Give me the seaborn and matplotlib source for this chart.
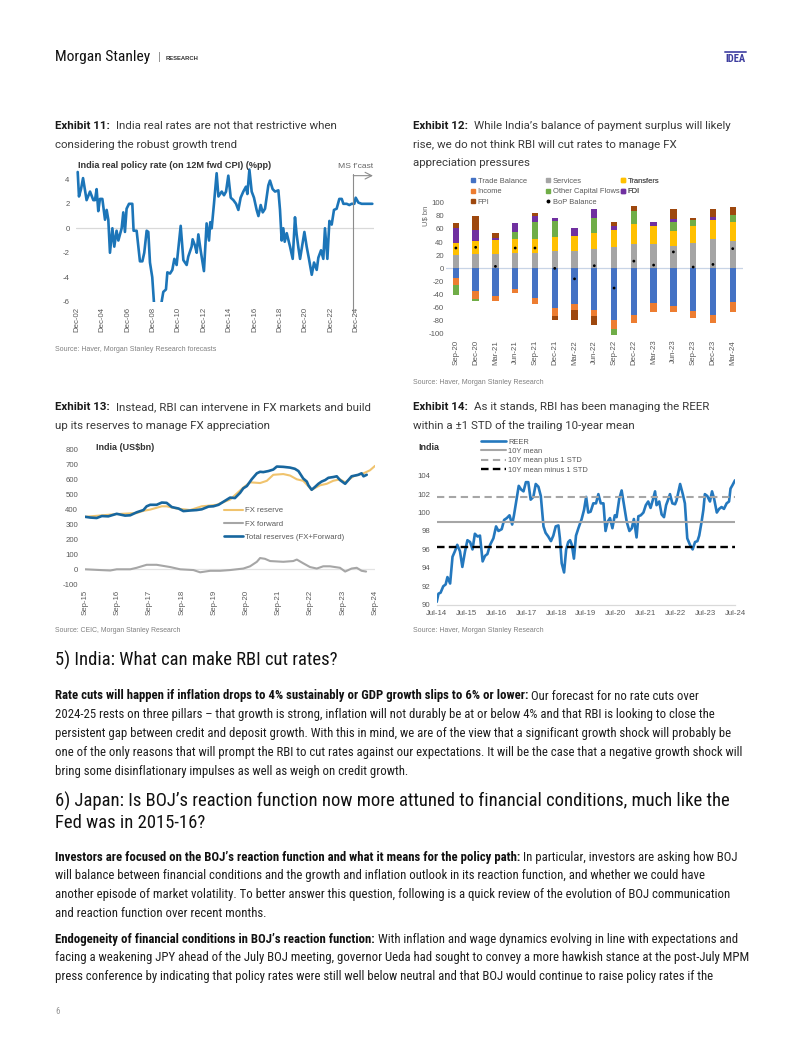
import numpy as np
import pandas as pd
import matplotlib
matplotlib.use("Agg")
import matplotlib.pyplot as plt
import seaborn as sns
from matplotlib import font_manager as fm
from matplotlib.lines import Line2D

# ---------------------------------------------------------------- data
# Exhibit 11: India real policy rate (decimal year, %pp)
rate_dates = [2003.0, 2003.1, 2003.26, 2003.42, 2003.7, 2003.97, 2004.23, 2004.36, 2004.49, 2004.62,
              2004.75, 2004.94, 2005.15, 2005.28, 2005.41, 2005.54, 2005.73, 2005.88, 2006.06, 2006.2,
              2006.46, 2006.59, 2006.72, 2006.85, 2007.04, 2007.3, 2007.4, 2007.64, 2007.9, 2008.09,
              2008.24, 2008.43, 2008.56, 2008.69, 2008.87, 2009.0, 2009.2, 2009.4, 2009.61, 2009.74,
              2009.95, 2010.06, 2010.27, 2010.45, 2010.61, 2010.79, 2011.11, 2011.32, 2011.58, 2011.71,
              2011.97, 2012.05, 2012.23, 2012.37, 2012.5, 2012.68, 2012.94, 2013.15, 2013.34, 2013.44,
              2013.55, 2013.73, 2013.94, 2014.08, 2014.34, 2014.52, 2014.68, 2014.86, 2015.05, 2015.26,
              2015.47, 2015.65, 2015.83, 2016.04, 2016.25, 2016.36, 2016.52, 2016.7, 2016.88, 2017.09,
              2017.23, 2017.41, 2017.57, 2017.75, 2018.01, 2018.14, 2018.35, 2018.54, 2018.8, 2018.93,
              2019.06, 2019.19, 2019.3, 2019.46, 2019.72, 2019.93, 2020.11, 2020.24, 2020.38, 2020.51,
              2020.85, 2021.03, 2021.21, 2021.43, 2021.61, 2021.82, 2021.95, 2022.16, 2022.34, 2022.47,
              2022.66, 2022.82, 2023.0, 2023.18, 2023.39, 2023.6, 2023.79, 2023.92, 2024.18, 2024.39,
              2024.57, 2024.78, 2024.89, 2025.1, 2025.36, 2026.2]
rate_vals = [4.6, 2.6, 3.2, 4.1, 2.3, 3.0, 2.3, 2.3, 3.2, 1.4,
             2.4, 2.4, 0.7, 1.5, 0.7, -2.0, 0.0, -1.5, -0.2, -1.0,
             0.0, 1.3, -0.3, 1.6, 2.0, 2.0, -0.2, -0.2, -2.7, -2.7,
             -2.0, -0.2, -0.3, -2.8, -4.0, -6.0, -8.0, -7.5, -6.0, -5.2,
             -5.0, -3.6, -3.7, -3.4, -2.5, -3.0, 0.2, -2.6, -3.0, -2.3,
             -1.5, -0.9, -1.4, -2.0, -0.5, -1.8, -3.5, 0.4, -1.0, 0.5,
             0.0, 2.0, 4.5, 2.6, 3.0, 2.7, 3.0, 4.3, 2.5, 2.3,
             2.0, 1.5, 2.5, 3.0, 3.4, 2.8, 4.8, 3.0, 2.5, 1.5,
             1.0, 1.9, 1.3, 1.6, 3.5, 3.9, 3.2, 3.0, 3.1, 1.5,
             -1.0, 0.0, -1.1, -0.4, -1.5, -2.5, 0.9, -0.5, -1.6, -2.5,
             -0.3, -1.5, -2.5, -3.8, -2.8, -3.4, -2.4, -1.8, -2.5, 0.0,
             -2.5, 0.6, 0.3, 1.5, 1.6, 2.4, 2.4, 2.0, 2.0, 1.9,
             2.0, 2.0, 2.5, 2.1, 2.0, 2.0]
forecast_start = 2024.7
ex11_ticklabels = ["Dec-02", "Dec-04", "Dec-06", "Dec-08", "Dec-10", "Dec-12",
                   "Dec-14", "Dec-16", "Dec-18", "Dec-20", "Dec-22", "Dec-24"]

# Exhibit 12: India balance of payments (US$ bn)
quarters = ["Sep-20", "Dec-20", "Mar-21", "Jun-21", "Sep-21", "Dec-21", "Mar-22", "Jun-22",
            "Sep-22", "Dec-22", "Mar-23", "Jun-23", "Sep-23", "Dec-23", "Mar-24"]
trade_balance = [-14, -34, -42, -31, -45, -60, -55, -64, -79, -71, -53, -57, -65, -71, -51]
services = [20, 22, 22, 24, 24, 26, 26, 30, 33, 37, 37, 34, 38, 44, 42]
transfers = [18, 20, 21, 20, 20, 22, 23, 24, 25, 30, 27, 23, 26, 29, 29]
income = [-11, -12, -8, -6, -10, -12, -9, -8, -13, -12, -13, -10, -11, -13, -15]
other_capital = [-15, -3, 0, 12, 27, 24, 0, 22, -9, 21, 0, 14, 9, 0, 10]
fdi = [24, 16, 3, 13, 9, 5, 13, 14, 6, 0, 7, 4, 0, 5, 0]
fpi = [7, 22, 8, 0, 4, -6, -15, -14, 7, 7, 0, 16, 4, 12, 13]
bop_balance = [31, 32, 3, 31, 31, 0, -16, 4, -30, 11, 5, 25, 2, 6, 30]

# Exhibit 13: India reserves (US$ bn)
total_dates = [2015.67, 2015.83, 2016.03, 2016.19, 2016.39, 2016.65, 2016.91, 2017.07, 2017.27, 2017.48,
               2017.58, 2017.69, 2017.89, 2018.05, 2018.2, 2018.36, 2018.57, 2018.72, 2018.93, 2019.13,
               2019.29, 2019.5, 2019.65, 2019.81, 2019.96, 2020.17, 2020.32, 2020.48, 2020.58, 2020.69,
               2020.84, 2021.0, 2021.1, 2021.2, 2021.36, 2021.51, 2021.62, 2021.82, 2022.03, 2022.18,
               2022.29, 2022.44, 2022.55, 2022.6, 2022.7, 2022.81, 2022.91, 2023.01, 2023.12, 2023.22,
               2023.37, 2023.48, 2023.58, 2023.74, 2023.84, 2023.94, 2024.15, 2024.25, 2024.31, 2024.41]
total_reserves = [350, 345, 342, 355, 353, 370, 358, 360, 380, 395,
                  420, 430, 430, 445, 443, 415, 405, 388, 392, 395,
                  400, 418, 420, 430, 450, 478, 475, 510, 540, 555,
                  600, 640, 650, 648, 655, 665, 685, 683, 678, 670,
                  655, 605, 585, 560, 530, 550, 570, 585, 595, 610,
                  615, 620, 595, 570, 595, 620, 630, 640, 620, 630]
fxres_dates = [2015.67, 2016.65, 2017.27, 2017.48, 2017.69, 2018.05, 2018.2, 2018.51, 2018.93, 2019.29,
               2019.55, 2019.75, 2020.17, 2020.58, 2020.79, 2021.1, 2021.31, 2021.51, 2021.82, 2022.03,
               2022.24, 2022.44, 2022.7, 2022.96, 2023.17, 2023.37, 2023.58, 2023.74, 2024.0, 2024.31,
               2024.51, 2024.67]
fx_reserve = [350, 368, 375, 390, 398, 420, 420, 405, 395, 420,
              425, 430, 465, 545, 580, 575, 590, 630, 635, 625,
              600, 590, 530, 560, 570, 590, 600, 580, 620, 640,
              660, 690]
fwd_dates = [2015.67, 2016.14, 2016.45, 2016.65, 2017.07, 2017.27, 2017.58, 2017.89, 2018.31, 2018.62,
             2019.03, 2019.24, 2019.55, 2019.86, 2020.17, 2020.58, 2020.79, 2021.0, 2021.1, 2021.25,
             2021.41, 2021.82, 2022.13, 2022.24, 2022.44, 2022.65, 2022.86, 2023.06, 2023.27, 2023.58,
             2023.74, 2023.94, 2024.1, 2024.25, 2024.39]
fx_forward = [0, -5, -8, 0, 0, 10, 30, 30, 15, 0,
              -5, -20, -10, -10, -5, 5, 20, 50, 75, 70,
              55, 50, 55, 65, 40, 15, 5, 20, 20, 10,
              -15, 5, 10, -10, -15]
ex13_ticklabels = ["Sep-15", "Sep-16", "Sep-17", "Sep-18", "Sep-19",
                   "Sep-20", "Sep-21", "Sep-22", "Sep-23", "Sep-24"]

# Exhibit 14: India REER
reer_dates = [2014.5, 2014.56, 2014.63, 2014.72, 2014.8, 2014.86, 2014.95, 2015.03, 2015.11, 2015.19,
              2015.28, 2015.36, 2015.45, 2015.53, 2015.62, 2015.7, 2015.78, 2015.87, 2015.95, 2016.04,
              2016.12, 2016.2, 2016.29, 2016.4, 2016.49, 2016.57, 2016.68, 2016.76, 2016.85, 2016.94,
              2017.03, 2017.09, 2017.18, 2017.25, 2017.33, 2017.41, 2017.49, 2017.57, 2017.65, 2017.74,
              2017.82, 2017.91, 2017.99, 2018.08, 2018.15, 2018.24, 2018.33, 2018.41, 2018.49, 2018.58,
              2018.63, 2018.69, 2018.77, 2018.84, 2018.91, 2018.97, 2019.03, 2019.1, 2019.17, 2019.25,
              2019.36, 2019.44, 2019.51, 2019.58, 2019.66, 2019.75, 2019.84, 2019.92, 2020.0, 2020.09,
              2020.16, 2020.23, 2020.31, 2020.39, 2020.47, 2020.53, 2020.62, 2020.7, 2020.78, 2020.87,
              2020.96, 2021.04, 2021.11, 2021.2, 2021.26, 2021.34, 2021.43, 2021.51, 2021.59, 2021.67,
              2021.74, 2021.82, 2021.87, 2021.96, 2022.04, 2022.12, 2022.19, 2022.27, 2022.32, 2022.4,
              2022.49, 2022.54, 2022.66, 2022.75, 2022.82, 2022.9, 2022.99, 2023.08, 2023.16, 2023.24,
              2023.3, 2023.38, 2023.44, 2023.49, 2023.57, 2023.66, 2023.73, 2023.8, 2023.89, 2023.97,
              2024.05, 2024.13, 2024.22, 2024.3, 2024.35, 2024.42, 2024.5]
reer = [90.3, 91.2, 91.3, 92.0, 92.2, 93.0, 92.3, 95.2, 95.8, 96.5,
        95.8, 94.1, 95.8, 97.0, 96.8, 96.0, 97.7, 97.4, 97.5, 94.7,
        95.3, 95.5, 96.5, 97.2, 98.5, 98.0, 98.2, 99.2, 99.4, 99.7,
        98.7, 99.7, 101.5, 102.9, 102.5, 102.3, 103.3, 103.3, 101.4, 101.7,
        103.1, 102.8, 101.8, 98.5, 97.8, 97.4, 96.9, 97.5, 98.5, 98.6,
        97.2, 94.5, 93.5, 96.0, 96.8, 97.0, 96.5, 95.0, 97.5, 98.3,
        99.3, 100.3, 101.7, 100.0, 100.1, 101.0, 101.0, 102.0, 101.0, 101.0,
        98.0, 99.0, 99.4, 98.3, 99.7, 99.5, 101.5, 102.4, 100.8, 99.0,
        98.0, 98.3, 99.3, 97.3, 99.6, 99.7, 100.0, 100.8, 101.2, 100.5,
        101.3, 102.3, 100.8, 101.2, 99.8, 99.5, 100.8, 101.5, 102.0, 101.0,
        100.9, 101.3, 103.1, 102.0, 101.0, 97.2, 96.5, 96.0, 96.8, 96.9,
        97.5, 99.0, 100.3, 102.0, 101.8, 101.2, 102.3, 101.5, 100.0, 100.4,
        100.6, 100.4, 101.0, 101.2, 102.6, 103.0, 103.5]
mean_10y = 99.0
mean_plus_std = 101.7
mean_minus_std = 96.25
ex14_ticklabels = ["Jul-14", "Jul-15", "Jul-16", "Jul-17", "Jul-18", "Jul-19",
                   "Jul-20", "Jul-21", "Jul-22", "Jul-23", "Jul-24"]

# ---------------------------------------------------------------- setup
sns.set_theme(style="white")
avail = {f.name for f in fm.fontManager.ttflist}


def pick(*names):
    for n in names:
        if n in avail:
            return n
    return "DejaVu Sans"


CHART = pick("Liberation Sans", "Arimo", "DejaVu Sans")
NARROW = pick("Liberation Sans Narrow", "Roboto Condensed", "Open Sans Condensed", "Lato", "Noto Sans")
TITLE = pick("Roboto", "Lato", "Liberation Sans")
plt.rcParams["font.family"] = [CHART, "DejaVu Sans"]
plt.rcParams["axes.unicode_minus"] = False

W, H = 802, 1037
fig = plt.figure(figsize=(W / 100, H / 100), dpi=100)
fig.patch.set_facecolor("white")
renderer = fig.canvas.get_renderer()


def tw(s, size, family, weight="normal"):
    t = fig.text(0, 0, s, fontsize=size, family=family, weight=weight)
    w = t.get_window_extent(renderer).width
    t.remove()
    return w


def space_w(size, family):
    return tw("a a", size, family) - tw("aa", size, family)


def segs_width(segs, size, family):
    total = sum(tw(s, size, family, wt) for s, wt, _ in segs)
    return total + (len(segs) - 1) * space_w(size, family) * 1.0


def fit(segs, target, family, base=10.0):
    return base * target / segs_width(segs, base, family)


def draw(x, y, segs, size, family, extra_gap=0.0, **kw):
    cx = x
    sp = space_w(size, family)
    for i, (s, wt, col) in enumerate(segs):
        t = fig.text(cx / W, 1 - y / H, s, fontsize=size, family=family, weight=wt,
                     color=col, va="center", ha="left", **kw)
        cx += t.get_window_extent(renderer).width + sp + extra_gap
    return cx


def ftext(x, y, s, target_w, family, weight="normal", color="#222222", ha="left", rotation=0):
    size = 10.0 * target_w / tw(s, 10.0, family, weight)
    return fig.text(x / W, 1 - y / H, s, fontsize=size, family=family, weight=weight,
                    color=color, ha=ha, va="center", rotation=rotation)


def add_ax(l, t, r, b):
    return fig.add_axes([l / W, 1 - b / H, (r - l) / W, (b - t) / H])


def dec(label):
    ts = pd.to_datetime(label, format="%b-%y")
    return ts.year + (ts.month - 1) / 12.0


TICK_C = "#595959"
BODY_C = "#1e1e1e"
TITLE_C = "#3a3a3a"
SRC_C = "#808080"

# ---------------------------------------------------------------- header
ftext(55, 57, "Morgan Stanley", 95, NARROW, color="#111111")
fig.text(158 / W, 1 - 57 / H, "|", fontsize=8, color="#888888", va="center", ha="left")
ftext(166, 58, "RESEARCH", 33, CHART, weight="bold", color="#333333")
ftext(725, 59, "IDEA", 20, NARROW, weight="bold", color="#3d3d9e")
fig.add_artist(Line2D([725 / W, 746 / W], [1 - 51.5 / H, 1 - 51.5 / H], color="#5a5aae", lw=1.4))

# ---------------------------------------------------------------- exhibit titles
t_size = fit([("Exhibit 11:", "bold", ""), ("India real rates are not that restrictive when", "normal", "")],
             283 - 4, TITLE)


def title(x, y, bold, rest):
    draw(x, y, [(bold, "bold", "#1a1a1a"), (rest, "normal", TITLE_C)], t_size, TITLE, extra_gap=3)


def title_cont(x, y, s):
    draw(x, y, [(s, "normal", TITLE_C)], t_size, TITLE)


title(55, 126, "Exhibit 11:", "India real rates are not that restrictive when")
title_cont(55, 145, "considering the robust growth trend")
title(413, 126, "Exhibit 12:", "While India’s balance of payment surplus will likely")
title_cont(413, 145, "rise, we do not think RBI will cut rates to manage FX")
title_cont(413, 163, "appreciation pressures")
title(55, 407, "Exhibit 13:", "Instead, RBI can intervene in FX markets and build")
title_cont(55, 426, "up its reserves to manage FX appreciation")
title(413, 407, "Exhibit 14:", "As it stands, RBI has been managing the REER")
title_cont(413, 426, "within a ±1 STD of the trailing 10-year mean")

# ---------------------------------------------------------------- Exhibit 11
ax1 = add_ax(75.8, 167.1, 373.6, 301.7)
df11 = pd.DataFrame({"date": rate_dates, "rate": rate_vals})
ax1.axhline(0, color="#d9d9d9", lw=0.9, zorder=0)
sns.lineplot(data=df11, x="date", y="rate", ax=ax1, color="#1c75b8", lw=1.9)
ax1.set_xlim(2002.85, 2026.3)
ax1.set_ylim(-6, 5)
ax1.set_yticks([-6, -4, -2, 0, 2, 4])
ax1.set_xticks([dec(l) for l in ex11_ticklabels])
ax1.set_xticklabels(ex11_ticklabels, rotation=90)
ax1.tick_params(axis="both", length=0, labelsize=5.6, colors=TICK_C)
ax1.tick_params(axis="y", pad=4.5)
ax1.tick_params(axis="x", pad=3.6)
ax1.set_xlabel("")
ax1.set_ylabel("")
for s in ax1.spines.values():
    s.set_visible(False)
ax1.axvline(forecast_start, ymin=-0.085, ymax=0.95, color="#8c8c8c", lw=0.8, clip_on=False)
ax1.annotate("", xy=(2026.25, 4.3), xytext=(forecast_start, 4.3),
             arrowprops=dict(arrowstyle="->", color="#8c8c8c", lw=0.8, shrinkA=0, shrinkB=0))
ftext(373, 166, "MS f’cast", 35, CHART, color="#666666", ha="right")
ftext(78, 165, "India real policy rate (on 12M fwd CPI) (%pp)", 192, CHART, weight="bold", color="#333333")
ftext(55, 349, "Source: Haver, Morgan Stanley Research forecasts", 160, CHART, color=SRC_C)

# ---------------------------------------------------------------- Exhibit 12
ax2 = add_ax(446, 202.7, 742.6, 334)
series12 = [("Trade Balance", trade_balance, "#4472c4"),
            ("Services", services, "#a5a5a5"),
            ("Transfers", transfers, "#ffc000"),
            ("Income", income, "#ed7d31"),
            ("Other Capital Flows", other_capital, "#70ad47"),
            ("FDI", fdi, "#7030a0"),
            ("FPI", fpi, "#9e480e")]
xpos = np.arange(len(quarters))
pos_base = np.zeros(len(quarters))
neg_base = np.zeros(len(quarters))
ax2.axhline(0, color="#c8d4e6", lw=0.9, zorder=0)
for name, vals, col in series12:
    v = np.array(vals, dtype=float)
    bottoms = np.where(v >= 0, pos_base, neg_base)
    ax2.bar(xpos, v, bottom=bottoms, width=0.32, color=col, edgecolor="none", zorder=2, clip_on=False)
    pos_base = pos_base + np.where(v >= 0, v, 0)
    neg_base = neg_base + np.where(v < 0, v, 0)
sns.scatterplot(x=xpos, y=bop_balance, ax=ax2, color="black", s=4, edgecolor="none", zorder=3)
ax2.set_xlim(-0.5, len(quarters) - 0.5)
ax2.set_ylim(-100, 100)
ax2.set_yticks(np.arange(-100, 101, 20))
ax2.set_xticks(xpos)
ax2.set_xticklabels(quarters, rotation=90)
ax2.tick_params(axis="both", length=0, labelsize=5.6, colors=TICK_C)
ax2.tick_params(axis="y", pad=1.5)
ax2.tick_params(axis="x", pad=4.2)
for s in ax2.spines.values():
    s.set_visible(False)
handles12 = {name: Line2D([], [], ls="", marker="s", markersize=3.3, color=col) for name, _, col in series12}
handles12["BoP Balance"] = Line2D([], [], ls="", marker="o", markersize=1.8, color="black")
columns12 = [(470.5, ["Trade Balance", "Income", "FPI"]),
             (545.5, ["Services", "Other Capital Flows", "BoP Balance"]),
             (620.5, ["Transfers", "FDI"])]
for cx, names in columns12:
    lg = ax2.legend([handles12[k] for k in names], names, loc="upper left",
                    bbox_to_anchor=(cx / W, 1 - 177.5 / H), bbox_transform=fig.transFigure,
                    frameon=False, fontsize=5.4, handlelength=0.7, handletextpad=0.25,
                    labelspacing=0.42, borderpad=0, borderaxespad=0)
    for t in lg.get_texts():
        t.set_color(TICK_C)
    ax2.add_artist(lg)
ftext(423, 216, "U$ bn", 20, CHART, color="#666666", rotation=90)
ftext(413, 382, "Source: Haver, Morgan Stanley Research", 129, CHART, color=SRC_C)

# ---------------------------------------------------------------- Exhibit 13
ax3 = add_ax(85, 449.3, 375, 584.3)
ax3.axhline(0, color="#e3e3e3", lw=0.9, zorder=0)
df_res = pd.DataFrame({"date": fxres_dates, "val": fx_reserve})
df_fwd = pd.DataFrame({"date": fwd_dates, "val": fx_forward})
df_tot = pd.DataFrame({"date": total_dates, "val": total_reserves})
sns.lineplot(data=df_res, x="date", y="val", ax=ax3, color="#f0c36d", lw=1.5, label="FX reserve")
sns.lineplot(data=df_fwd, x="date", y="val", ax=ax3, color="#a6a6a6", lw=1.5, label="FX forward")
sns.lineplot(data=df_tot, x="date", y="val", ax=ax3, color="#17669e", lw=1.9, label="Total reserves (FX+Forward)")
ax3.set_xlim(dec("Sep-15"), dec("Sep-24"))
ax3.set_ylim(-100, 800)
ax3.set_yticks(np.arange(-100, 801, 100))
ax3.set_xticks([dec(l) for l in ex13_ticklabels])
ax3.set_xticklabels(ex13_ticklabels, rotation=90)
ax3.tick_params(axis="both", length=0, labelsize=5.6, colors=TICK_C)
ax3.tick_params(axis="y", pad=5)
ax3.tick_params(axis="x", pad=4)
ax3.set_xlabel("")
ax3.set_ylabel("")
for s in ax3.spines.values():
    s.set_visible(False)
leg3 = ax3.legend(loc="upper left", bbox_to_anchor=(224 / W, 1 - 507 / H), bbox_transform=fig.transFigure,
                  frameon=False, fontsize=5.6, handlelength=2.5, handletextpad=0.2,
                  labelspacing=0.75, borderpad=0, borderaxespad=0)
for t in leg3.get_texts():
    t.set_color(TICK_C)
ftext(96, 447, "India (US$bn)", 58, CHART, weight="bold", color="#333333")
ftext(55, 631, "Source: CEIC, Morgan Stanley Research", 126, CHART, color=SRC_C)

# ---------------------------------------------------------------- Exhibit 14
ax4 = add_ax(436.7, 475.7, 735, 604.7)
df14 = pd.DataFrame({"date": reer_dates, "REER": reer})
sns.lineplot(data=df14, x="date", y="REER", ax=ax4, color="#2478be", lw=1.9, label="REER")
ax4.axhline(mean_10y, color="#a6a6a6", lw=1.5, label="10Y mean")
ax4.axhline(mean_plus_std, color="#a6a6a6", lw=1.5, ls=(0, (3.5, 2.2)), label="10Y mean plus 1 STD")
ax4.axhline(mean_minus_std, color="black", lw=1.7, ls=(0, (3.2, 1.8)), label="10Y mean minus 1 STD")
ax4.set_xlim(dec("Jul-14"), dec("Jul-24"))
ax4.set_ylim(90, 104)
ax4.set_yticks(np.arange(90, 105, 2))
ax4.set_xticks([dec(l) for l in ex14_ticklabels])
ax4.set_xticklabels(ex14_ticklabels)
ax4.tick_params(axis="both", length=0, labelsize=5.6, colors=TICK_C)
ax4.tick_params(axis="y", pad=4.8)
ax4.tick_params(axis="x", pad=4)
ax4.set_xlabel("")
ax4.set_ylabel("")
for k, s in ax4.spines.items():
    s.set_visible(k == "bottom")
ax4.spines["bottom"].set_color("#d9d9d9")
ax4.spines["bottom"].set_linewidth(0.9)
leg4 = ax4.legend(loc="upper left", bbox_to_anchor=(481 / W, 1 - 438.5 / H), bbox_transform=fig.transFigure,
                  frameon=False, fontsize=5.4, handlelength=3.3, handletextpad=0.3,
                  labelspacing=0.28, borderpad=0, borderaxespad=0)
for t in leg4.get_texts():
    t.set_color(TICK_C)
ftext(418, 448, "India", 21, CHART, weight="bold", color="#333333")
ftext(413, 630, "Source: Haver, Morgan Stanley Research", 129, CHART, color=SRC_C)

# ---------------------------------------------------------------- body text
h_size = min(fit([("5) India: What can make RBI cut rates?", "normal", "")], 286, NARROW),
             fit([("6) Japan: Is BOJ’s reaction function now more attuned to financial conditions, much like the",
                   "normal", "")], 670, NARROW))
draw(55, 660, [("5) India: What can make RBI cut rates?", "normal", "#111111")], h_size, NARROW)

p_size = fit([("one of the only reasons that will prompt the RBI to cut rates against our expectations. "
               "It will be the case that a negative growth shock will", "normal", "")], 684, NARROW)


def para(y0, lines, dy=18.8):
    for i, segs in enumerate(lines):
        draw(55, y0 + i * dy, segs, p_size, NARROW)


B = "bold"
N = "normal"
para(696, [
    [("Rate cuts will happen if inflation drops to 4% sustainably or GDP growth slips to 6% or lower:", B, "#111111"),
     ("Our forecast for no rate cuts over", N, BODY_C)],
    [("2024-25 rests on three pillars – that growth is strong, inflation will not durably be at or below 4% and that RBI is looking to close the", N, BODY_C)],
    [("persistent gap between credit and deposit growth. With this in mind, we are of the view that a significant growth shock will probably be", N, BODY_C)],
    [("one of the only reasons that will prompt the RBI to cut rates against our expectations. It will be the case that a negative growth shock will", N, BODY_C)],
    [("bring some disinflationary impulses as well as weigh on credit growth.", N, BODY_C)],
])

draw(55, 801, [("6) Japan: Is BOJ’s reaction function now more attuned to financial conditions, much like the", N, "#111111")], h_size, NARROW)
draw(55, 823, [("Fed was in 2015-16?", N, "#111111")], h_size, NARROW)

para(857, [
    [("Investors are focused on the BOJ’s reaction function and what it means for the policy path:", B, "#111111"),
     ("In particular, investors are asking how BOJ", N, BODY_C)],
    [("will balance between financial conditions and the growth and inflation outlook in its reaction function, and whether we could have", N, BODY_C)],
    [("another episode of market volatility. To better answer this question, following is a quick review of the evolution of BOJ communication", N, BODY_C)],
    [("and reaction function over recent months.", N, BODY_C)],
])

para(939, [
    [("Endogeneity of financial conditions in BOJ’s reaction function:", B, "#111111"),
     ("With inflation and wage dynamics evolving in line with expectations and", N, BODY_C)],
    [("facing a weakening JPY ahead of the July BOJ meeting, governor Ueda had sought to convey a more hawkish stance at the post-July MPM", N, BODY_C)],
    [("press conference by indicating that policy rates were still well below neutral and that BOJ would continue to raise policy rates if the", N, BODY_C)],
])

fig.text(55 / W, 1 - 1012 / H, "6", fontsize=6.5, color="#999999", va="center", ha="left", family=NARROW)

fig.savefig("out.png", dpi=100, facecolor="white")
